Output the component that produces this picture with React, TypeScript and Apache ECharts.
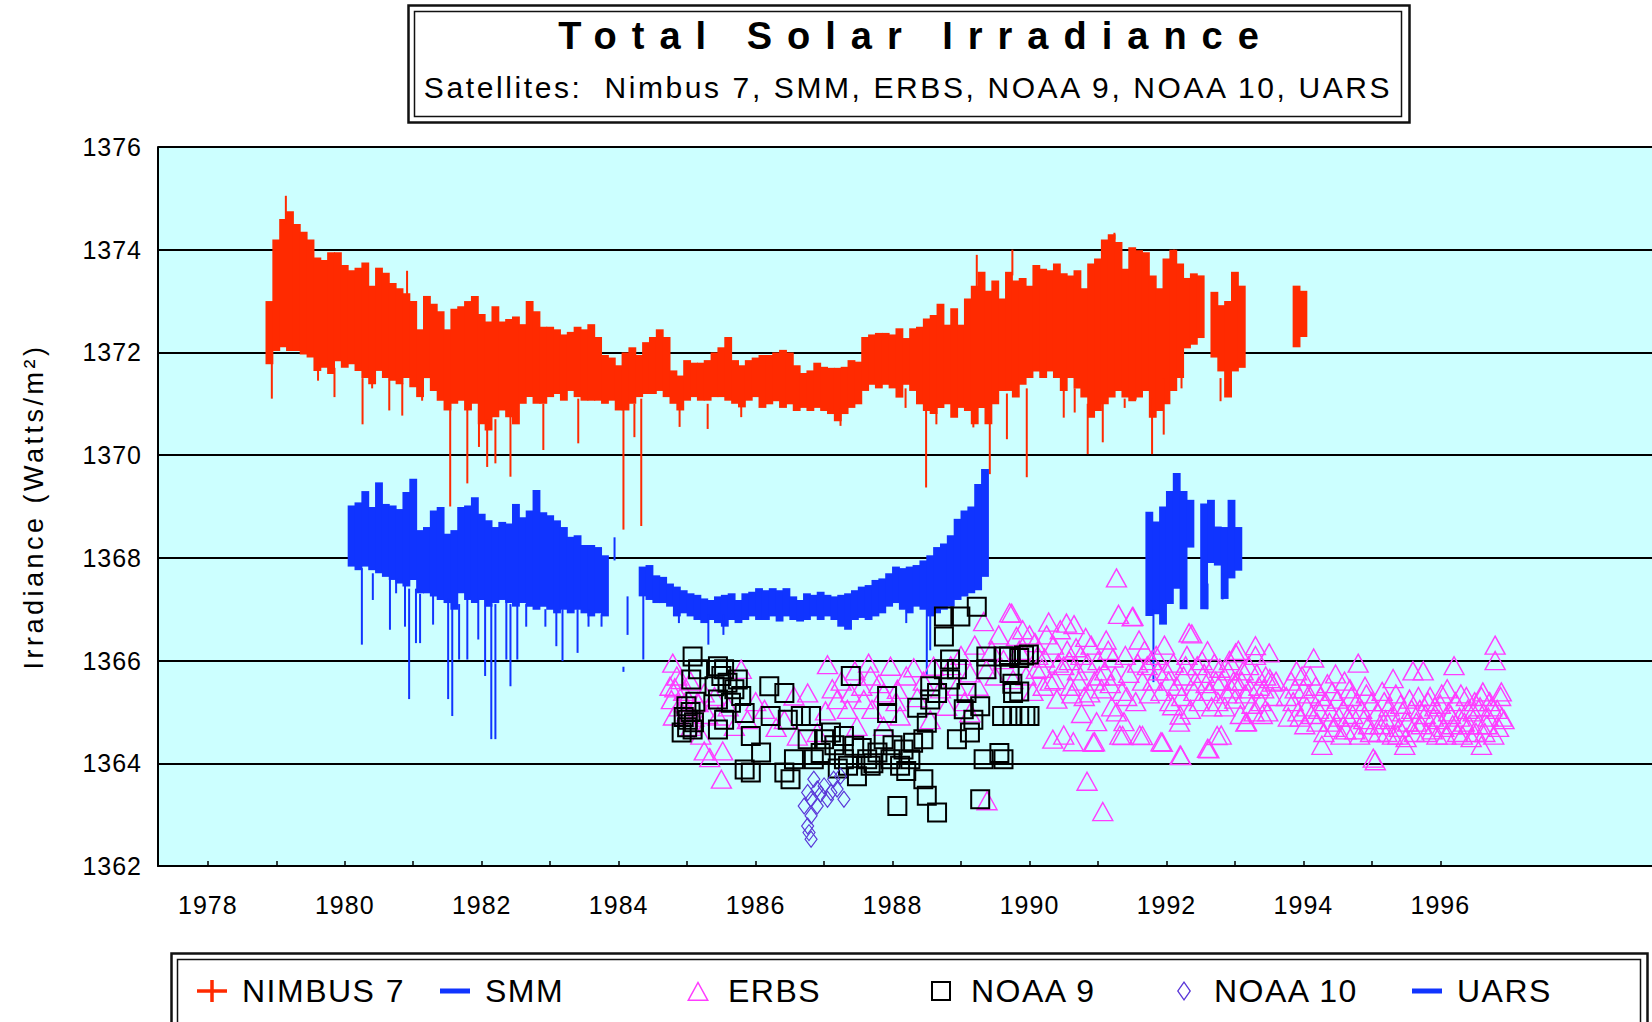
import React, { useEffect, useRef } from "react";
import * as echarts from "echarts";

// ---------- DATA ----------
const xTickYears = [1978, 1979, 1980, 1981, 1982, 1983, 1984, 1985, 1986, 1987, 1988, 1989, 1990, 1991, 1992, 1993, 1994, 1995, 1996];
const xLabelYears = [1978, 1980, 1982, 1984, 1986, 1988, 1990, 1992, 1994, 1996];
const seriesNames = ["NIMBUS 7", "SMM", "ERBS", "NOAA 9", "NOAA 10", "UARS"];

const binStep = 0.1;

// NIMBUS 7 : 0.1-year bins, upper and lower edges of the dense daily band
const nimbusStart = 1978.85;
const nimbusHigh = [
  1373.0, 1374.2, 1374.6, 1374.75, 1374.5, 1374.35, 1374.2, 1373.85, 1373.8, 1373.95,
  1373.95, 1373.7, 1373.6, 1373.65, 1373.75, 1373.3, 1373.65, 1373.55, 1373.35, 1373.25,
  1373.15, 1373.0, 1372.45, 1373.1, 1372.95, 1372.8, 1372.45, 1372.85, 1372.9, 1373.0,
  1373.1, 1372.75, 1372.6, 1372.9, 1372.6, 1372.65, 1372.7, 1372.55, 1373.0, 1372.8,
  1372.5, 1372.5, 1372.45, 1372.35, 1372.4, 1372.5, 1372.45, 1372.55, 1372.3, 1371.95,
  1371.9, 1371.75, 1372.0, 1372.1, 1371.95, 1372.2, 1372.3, 1372.45, 1372.3, 1371.65,
  1371.55, 1371.85, 1371.8, 1371.8, 1371.85, 1372.0, 1372.1, 1372.3, 1371.85, 1371.75,
  1371.85, 1371.9, 1371.95, 1371.95, 1372.0, 1372.05, 1372.0, 1371.75, 1371.6, 1371.65,
  1371.8, 1371.72, 1371.7, 1371.7, 1371.72, 1371.85, 1371.82, 1372.3, 1372.35, 1372.38,
  1372.38, 1372.35, 1372.47, 1372.28, 1372.47, 1372.5, 1372.66, 1372.73, 1372.95, 1372.54,
  1372.86, 1372.54, 1373.05, 1373.3, 1373.57, 1373.2, 1373.4, 1373.05, 1373.57, 1373.4,
  1373.45, 1373.3, 1373.7, 1373.63, 1373.6, 1373.73, 1373.54, 1373.5, 1373.6, 1373.25,
  1373.73, 1373.83, 1374.2, 1374.3, 1374.15, 1373.63, 1374.05, 1373.99, 1373.95, 1373.5,
  1373.25, 1373.83, 1374.0, 1373.73, 1373.45, 1373.54, 1373.5, null, 1373.18, 1372.92,
  1373.0, 1373.57, 1373.3,
];
const nimbusLow = [
  1371.77, 1372.03, 1372.1, 1372.03, 1372.03, 1371.96, 1371.9, 1371.64, 1371.7, 1371.58,
  1371.83, 1371.7, 1371.77, 1371.64, 1371.5, 1371.38, 1371.64, 1371.5, 1371.45, 1371.38,
  1371.5, 1371.32, 1371.13, 1371.5, 1371.25, 1371.06, 1370.87, 1371.0, 1371.06, 1370.87,
  1371.0, 1370.6, 1370.48, 1370.74, 1370.87, 1370.74, 1370.6, 1371.0, 1371.13, 1371.0,
  1371.0, 1371.13, 1371.19, 1371.06, 1371.25, 1371.13, 1371.06, 1371.06, 1371.06, 1371.0,
  1371.06, 1370.87, 1370.87, 1371.0, 1371.13, 1371.19, 1371.19, 1371.25, 1371.13, 1371.0,
  1370.87, 1371.06, 1371.13, 1371.06, 1371.06, 1371.13, 1371.13, 1371.06, 1371.0, 1370.93,
  1371.06, 1371.13, 1370.92, 1370.99, 1371.05, 1370.92, 1370.99, 1370.86, 1370.92, 1370.86,
  1370.92, 1370.86, 1370.8, 1370.66, 1370.8, 1370.92, 1370.99, 1371.25, 1371.37, 1371.3,
  1371.37, 1371.3, 1371.12, 1371.37, 1371.25, 1370.99, 1370.86, 1370.8, 1370.92, 1370.99,
  1370.73, 1370.92, 1370.86, 1370.6, 1370.92, 1370.6, 1370.99, 1371.25, 1371.25, 1371.12,
  1371.37, 1371.5, 1371.63, 1371.5, 1371.63, 1371.5, 1371.25, 1371.5, 1371.3, 1371.12,
  1370.73, 1370.86, 1370.99, 1371.12, 1371.25, 1371.12, 1371.05, 1371.12, 1371.25, 1370.73,
  1370.86, 1370.99, 1371.25, 1371.5, 1372.08, 1372.15, 1372.28, null, 1371.9, 1371.63,
  1371.12, 1371.63, 1371.7,
];
const nimbus2Start = 1993.85;
const nimbus2High = [1373.3, 1373.2];
const nimbus2Low = [1372.1, 1372.3];
// thin single-day excursions: [year, low, high]
const nimbusSpikes = [
  [1978.935, 1371.1, 1371.8], [1979.61, 1371.45, 1371.9], [1979.85, 1371.13, 1371.7],
  [1980.26, 1370.6, 1371.5], [1980.4, 1371.3, 1371.6], [1980.65, 1370.87, 1371.5],
  [1980.84, 1370.77, 1371.4], [1981.13, 1371.06, 1371.3], [1981.54, 1369.0, 1371.0],
  [1981.79, 1369.45, 1371.0], [1981.96, 1370.16, 1370.9], [1982.08, 1369.77, 1370.7],
  [1982.2, 1369.84, 1370.7], [1982.42, 1369.58, 1370.8], [1982.9, 1370.1, 1371.0],
  [1983.41, 1370.23, 1371.1], [1984.07, 1368.55, 1371.0], [1984.23, 1370.35, 1371.0],
  [1984.33, 1368.62, 1371.1], [1984.89, 1370.55, 1371.0], [1985.3, 1370.51, 1371.0],
  [1985.79, 1370.74, 1371.0], [1987.24, 1370.57, 1370.9], [1988.19, 1370.92, 1371.3],
  [1988.49, 1369.37, 1371.0], [1988.64, 1370.6, 1371.0], [1989.18, 1370.54, 1370.9],
  [1989.42, 1369.63, 1370.9], [1989.67, 1370.31, 1371.2], [1989.96, 1369.57, 1371.3],
  [1990.5, 1370.73, 1371.5], [1990.66, 1370.83, 1371.3], [1990.85, 1370.02, 1371.0],
  [1991.07, 1370.25, 1371.0], [1991.39, 1370.92, 1371.1], [1991.55, 1371.08, 1371.2],
  [1991.79, 1370.02, 1371.1], [1991.96, 1370.4, 1371.5], [1992.22, 1371.3, 1372.0],
  [1992.79, 1371.05, 1371.5],
  [1979.14, 1374.5, 1375.05], [1980.91, 1373.1, 1373.59], [1989.23, 1373.2, 1373.9],
  [1989.75, 1373.5, 1374.0], [1991.24, 1374.2, 1374.33], [1992.11, 1373.8, 1374.0],
];

// SMM
const smm1Start = 1980.05;
const smm1High = [
  1369.02, 1369.08, 1369.3, 1368.99, 1369.47, 1369.05, 1369.02, 1368.95, 1369.28, 1369.54,
  1368.54, 1368.6, 1368.92, 1368.99, 1368.47, 1368.54, 1368.99, 1369.02, 1369.18, 1368.86,
  1368.73, 1368.6, 1368.7, 1368.67, 1369.05, 1368.79, 1368.92, 1369.32, 1368.89, 1368.83,
  1368.73, 1368.6, 1368.41, 1368.44, 1368.25, 1368.25, 1368.21, 1368.05,
];
const smm1Low = [
  1367.83, 1367.76, 1367.83, 1367.76, 1367.7, 1367.63, 1367.57, 1367.5, 1367.44, 1367.57,
  1367.31, 1367.31, 1367.25, 1367.18, 1367.12, 1366.99, 1367.31, 1367.18, 1367.12, 1367.18,
  1367.05, 1367.12, 1367.18, 1367.12, 1367.05, 1367.12, 1367.05, 1366.99, 1367.05, 1366.99,
  1366.92, 1366.99, 1366.92, 1366.99, 1366.92, 1366.86, 1366.92, 1366.86,
];
const smm2Start = 1984.3;
const smm2High = [
  1367.83, 1367.86, 1367.66, 1367.63, 1367.5, 1367.44, 1367.37, 1367.31, 1367.28, 1367.21,
  1367.18, 1367.25, 1367.28, 1367.31, 1367.18, 1367.31, 1367.34, 1367.41, 1367.37, 1367.41,
  1367.37, 1367.41, 1367.25, 1367.18, 1367.31, 1367.28, 1367.34, 1367.28, 1367.25, 1367.28,
  1367.31, 1367.37, 1367.44, 1367.47, 1367.57, 1367.6, 1367.7, 1367.83, 1367.8, 1367.83,
  1367.86, 1367.95, 1368.05, 1368.21, 1368.28, 1368.44, 1368.76, 1368.92, 1369.0, 1369.44,
  1369.73,
];
const smm2Low = [
  1367.25, 1367.18, 1367.12, 1367.12, 1367.05, 1366.86, 1366.92, 1366.86, 1366.79, 1366.73,
  1366.79, 1366.73, 1366.66, 1366.79, 1366.73, 1366.79, 1366.86, 1366.79, 1366.79, 1366.86,
  1366.76, 1366.86, 1366.79, 1366.76, 1366.79, 1366.86, 1366.79, 1366.86, 1366.79, 1366.66,
  1366.6, 1366.79, 1366.83, 1366.79, 1366.86, 1366.92, 1367.05, 1367.12, 1366.99, 1366.92,
  1367.05, 1366.99, 1366.86, 1366.92, 1366.99, 1367.05, 1367.18, 1367.25, 1367.31, 1367.37,
  1367.63,
];
const smmSpikes = [
  [1980.25, 1366.31, 1367.8], [1980.41, 1367.18, 1367.7], [1980.66, 1366.6, 1367.6],
  [1980.75, 1367.31, 1367.6], [1980.88, 1366.66, 1367.5], [1980.94, 1365.25, 1367.4],
  [1981.04, 1366.34, 1367.4], [1981.1, 1366.34, 1367.3], [1981.29, 1366.7, 1367.3],
  [1981.51, 1365.25, 1367.2], [1981.57, 1364.92, 1367.1], [1981.67, 1366.02, 1367.1],
  [1981.79, 1366.02, 1367.2], [1981.95, 1366.41, 1367.2], [1982.05, 1365.7, 1367.2],
  [1982.14, 1364.47, 1367.1], [1982.2, 1364.47, 1367.1], [1982.36, 1366.02, 1367.2],
  [1982.42, 1365.5, 1367.1], [1982.52, 1366.02, 1367.1], [1982.65, 1366.66, 1367.1],
  [1982.93, 1366.66, 1367.0], [1983.09, 1366.28, 1367.0], [1983.18, 1365.99, 1367.0],
  [1983.4, 1366.15, 1367.0], [1983.56, 1366.66, 1367.0], [1983.75, 1366.66, 1366.9],
  [1983.94, 1367.95, 1368.4], [1984.07, 1365.78, 1365.88], [1984.13, 1366.5, 1367.25],
  [1984.36, 1366.02, 1367.3], [1984.88, 1366.73, 1367.0], [1985.31, 1366.31, 1366.9],
  [1985.53, 1366.5, 1366.9], [1988.2, 1366.73, 1367.0], [1988.5, 1365.7, 1367.0],
  [1988.55, 1366.2, 1367.0],
];

// UARS
const uarsStart = 1991.7;
const uarsHigh = [1368.9, 1368.71, 1369.0, 1369.3, 1369.65, 1369.3, 1369.13, null, 1369.06, 1369.13, 1368.61, 1368.6, 1369.13, 1368.6];
const uarsLow = [1366.87, 1366.9, 1366.7, 1367.1, 1367.4, 1367.0, 1368.2, null, 1367.0, 1367.9, 1367.85, 1367.2, 1367.6, 1367.75];
const uarsSpikes = [[1991.81, 1365.58, 1367.0], [1992.6, 1367.0, 1367.5], [1992.82, 1367.19, 1367.7]];

// ERBS (year, W/m2)
const erbsPoints = [
  [1984.75, 1365.5], [1984.77, 1365.24], [1984.79, 1365.95], [1984.8, 1364.92], [1984.82, 1365.47], [1984.85, 1365.7],
  [1984.88, 1365.1], [1984.91, 1365.63], [1984.95, 1365.4], [1984.96, 1365.18], [1985.0, 1365.0], [1985.05, 1365.6],
  [1985.06, 1364.72], [1985.1, 1364.9], [1985.15, 1365.2], [1985.16, 1365.18], [1985.2, 1364.55], [1985.25, 1364.24],
  [1985.25, 1365.37], [1985.3, 1364.95], [1985.33, 1364.11], [1985.4, 1365.3], [1985.45, 1364.92], [1985.5, 1363.69],
  [1985.52, 1364.24], [1985.6, 1365.1], [1985.69, 1364.72], [1985.79, 1365.83], [1985.88, 1364.85], [1986.0, 1365.2],
  [1986.13, 1365.05], [1986.3, 1364.7], [1986.42, 1364.85], [1986.56, 1365.31], [1986.61, 1364.53], [1986.76, 1365.37],
  [1986.9, 1364.6], [1987.02, 1365.02], [1987.05, 1365.92], [1987.12, 1365.45], [1987.19, 1365.24], [1987.25, 1365.6],
  [1987.34, 1365.05], [1987.39, 1365.37], [1987.45, 1365.8], [1987.48, 1364.72], [1987.55, 1365.5], [1987.58, 1365.24],
  [1987.65, 1365.95], [1987.68, 1365.7], [1987.7, 1365.05], [1987.8, 1365.55], [1987.87, 1365.37], [1987.87, 1364.72],
  [1987.97, 1365.89], [1988.05, 1365.2], [1988.07, 1365.44], [1988.11, 1364.92], [1988.2, 1365.7], [1988.31, 1365.86],
  [1988.36, 1365.28], [1988.45, 1365.6], [1988.55, 1364.85], [1988.6, 1365.89], [1988.7, 1365.45], [1988.79, 1365.11],
  [1988.85, 1365.9], [1988.94, 1365.5], [1989.0, 1366.1], [1989.05, 1365.2], [1989.13, 1365.76], [1989.13, 1364.98],
  [1989.2, 1366.3], [1989.25, 1365.5], [1989.33, 1366.76], [1989.37, 1365.83], [1989.38, 1363.27], [1989.45, 1366.2],
  [1989.5, 1365.7], [1989.55, 1366.5], [1989.62, 1366.02], [1989.71, 1366.93], [1989.74, 1366.92], [1989.76, 1365.63],
  [1989.81, 1366.47], [1989.85, 1366.2], [1989.9, 1366.6], [1989.95, 1365.7], [1990.0, 1366.5], [1990.05, 1365.4],
  [1990.08, 1366.35], [1990.1, 1365.83], [1990.12, 1366.1], [1990.18, 1365.85], [1990.2, 1365.5], [1990.22, 1366.05],
  [1990.25, 1366.5], [1990.28, 1366.75], [1990.3, 1365.6], [1990.34, 1364.47], [1990.35, 1366.3], [1990.37, 1365.63],
  [1990.4, 1365.25], [1990.42, 1365.95], [1990.45, 1366.6], [1990.5, 1365.9], [1990.5, 1364.55], [1990.54, 1366.73],
  [1990.55, 1366.2], [1990.58, 1366.0], [1990.6, 1365.5], [1990.62, 1365.35], [1990.64, 1364.42], [1990.65, 1366.7],
  [1990.68, 1366.25], [1990.7, 1365.8], [1990.72, 1365.6], [1990.75, 1366.1], [1990.76, 1364.97], [1990.8, 1365.3],
  [1990.82, 1366.45], [1990.84, 1363.65], [1990.85, 1365.95], [1990.88, 1365.37], [1990.9, 1366.3], [1990.93, 1364.41],
  [1990.95, 1365.6], [1990.95, 1364.42], [1990.98, 1364.81], [1991.0, 1366.0], [1991.02, 1365.7], [1991.05, 1365.45],
  [1991.07, 1363.06], [1991.1, 1365.8], [1991.12, 1366.4], [1991.15, 1366.2], [1991.18, 1365.55], [1991.2, 1365.1],
  [1991.22, 1366.05], [1991.25, 1365.7], [1991.27, 1367.61], [1991.27, 1365.0], [1991.3, 1366.9], [1991.32, 1364.55],
  [1991.35, 1365.4], [1991.36, 1364.54], [1991.38, 1364.81], [1991.4, 1366.1], [1991.42, 1365.3], [1991.45, 1365.75],
  [1991.5, 1366.85], [1991.51, 1366.86], [1991.55, 1365.2], [1991.58, 1365.95], [1991.6, 1366.4], [1991.61, 1364.55],
  [1991.65, 1365.6], [1991.65, 1364.54], [1991.68, 1366.2], [1991.72, 1365.9], [1991.75, 1365.35], [1991.78, 1366.0],
  [1991.8, 1365.6], [1991.85, 1366.1], [1991.88, 1365.8], [1991.92, 1365.4], [1991.92, 1364.42], [1991.94, 1364.41],
  [1991.97, 1366.3], [1992.0, 1365.8], [1992.03, 1365.6], [1992.05, 1365.2], [1992.09, 1365.12], [1992.1, 1365.95],
  [1992.15, 1365.5], [1992.19, 1364.8], [1992.2, 1364.16], [1992.2, 1364.94], [1992.21, 1364.15], [1992.22, 1365.3],
  [1992.25, 1365.7], [1992.28, 1365.9], [1992.3, 1366.1], [1992.33, 1366.54], [1992.35, 1365.05], [1992.37, 1366.52],
  [1992.4, 1365.4], [1992.42, 1365.6], [1992.45, 1365.9], [1992.48, 1365.2], [1992.52, 1366.0], [1992.55, 1365.75],
  [1992.58, 1365.55], [1992.6, 1366.19], [1992.6, 1364.29], [1992.62, 1365.4], [1992.62, 1364.28], [1992.66, 1365.1],
  [1992.7, 1365.95], [1992.72, 1365.6], [1992.74, 1364.54], [1992.75, 1365.2], [1992.78, 1365.85], [1992.8, 1365.6],
  [1992.8, 1364.55], [1992.85, 1365.1], [1992.88, 1365.35], [1992.9, 1365.8], [1992.92, 1366.0], [1992.95, 1365.45],
  [1992.98, 1365.6], [1993.0, 1365.25], [1993.01, 1366.15], [1993.02, 1365.6], [1993.05, 1366.2], [1993.08, 1364.95],
  [1993.1, 1365.6], [1993.12, 1365.8], [1993.15, 1365.35], [1993.16, 1364.8], [1993.17, 1364.81], [1993.2, 1365.9],
  [1993.22, 1365.45], [1993.25, 1365.15], [1993.28, 1365.0], [1993.3, 1366.1], [1993.3, 1366.29], [1993.32, 1365.75],
  [1993.35, 1365.5], [1993.38, 1365.2], [1993.4, 1364.95], [1993.42, 1365.45], [1993.45, 1365.7], [1993.48, 1365.0],
  [1993.5, 1366.15], [1993.51, 1365.65], [1993.54, 1365.58], [1993.55, 1365.3], [1993.6, 1365.6], [1993.75, 1365.3],
  [1993.78, 1364.9], [1993.82, 1365.6], [1993.85, 1365.2], [1993.88, 1365.45], [1993.9, 1365.8], [1993.92, 1365.0],
  [1993.95, 1364.9], [1993.98, 1365.7], [1994.0, 1365.45], [1994.02, 1364.75], [1994.05, 1365.1], [1994.08, 1365.35],
  [1994.1, 1365.7], [1994.12, 1364.95], [1994.15, 1366.05], [1994.18, 1365.5], [1994.2, 1364.8], [1994.22, 1365.05],
  [1994.25, 1365.3], [1994.27, 1364.35], [1994.3, 1364.6], [1994.32, 1365.2], [1994.35, 1365.55], [1994.38, 1364.8],
  [1994.4, 1365.0], [1994.42, 1365.4], [1994.45, 1364.7], [1994.47, 1365.74], [1994.5, 1365.25], [1994.52, 1364.9],
  [1994.55, 1364.55], [1994.58, 1365.05], [1994.6, 1365.6], [1994.62, 1364.65], [1994.65, 1364.9], [1994.68, 1365.45],
  [1994.7, 1365.3], [1994.72, 1364.95], [1994.75, 1364.65], [1994.78, 1365.2], [1994.8, 1365.95], [1994.82, 1364.55],
  [1994.85, 1365.05], [1994.88, 1364.85], [1994.9, 1365.5], [1994.92, 1365.35], [1994.95, 1364.75], [1994.98, 1364.6],
  [1995.0, 1365.2], [1995.02, 1364.1], [1995.05, 1364.05], [1995.08, 1365.0], [1995.1, 1364.6], [1995.12, 1364.75],
  [1995.15, 1365.4], [1995.18, 1365.2], [1995.2, 1364.85], [1995.22, 1364.6], [1995.25, 1365.1], [1995.28, 1364.9],
  [1995.3, 1364.55], [1995.31, 1365.65], [1995.35, 1365.35], [1995.38, 1364.55], [1995.4, 1364.7], [1995.42, 1365.15],
  [1995.45, 1365.0], [1995.48, 1364.35], [1995.5, 1364.5], [1995.52, 1364.8], [1995.55, 1365.25], [1995.58, 1365.05],
  [1995.6, 1365.8], [1995.62, 1364.6], [1995.65, 1364.8], [1995.68, 1365.3], [1995.7, 1365.05], [1995.72, 1364.75],
  [1995.75, 1365.8], [1995.78, 1364.95], [1995.8, 1364.6], [1995.82, 1365.2], [1995.85, 1365.3], [1995.88, 1364.65],
  [1995.9, 1364.9], [1995.92, 1365.1], [1995.95, 1364.55], [1995.98, 1364.85], [1996.0, 1365.15], [1996.02, 1365.35],
  [1996.05, 1364.7], [1996.08, 1364.55], [1996.1, 1365.45], [1996.12, 1365.0], [1996.15, 1364.95], [1996.18, 1364.75],
  [1996.2, 1365.9], [1996.22, 1365.2], [1996.25, 1364.6], [1996.28, 1364.9], [1996.3, 1365.35], [1996.32, 1364.55],
  [1996.35, 1364.8], [1996.38, 1365.3], [1996.4, 1365.05], [1996.42, 1364.75], [1996.45, 1364.5], [1996.48, 1365.0],
  [1996.5, 1365.2], [1996.52, 1364.6], [1996.55, 1364.75], [1996.58, 1365.1], [1996.6, 1365.3], [1996.6, 1364.35],
  [1996.62, 1365.39], [1996.65, 1364.6], [1996.68, 1364.75], [1996.7, 1364.9], [1996.72, 1365.2], [1996.75, 1365.1],
  [1996.78, 1364.55], [1996.8, 1366.3], [1996.8, 1366.0], [1996.83, 1365.05], [1996.85, 1364.7], [1996.88, 1365.3],
  [1996.89, 1365.39], [1996.9, 1364.9], [1996.93, 1364.85],
];

// NOAA 9
const noaa9Points = [
  [1984.92, 1364.6], [1984.95, 1364.9], [1984.99, 1365.11], [1985.0, 1364.7], [1985.01, 1364.85], [1985.05, 1365.0],
  [1985.06, 1365.63], [1985.08, 1366.08], [1985.08, 1364.66], [1985.1, 1364.8], [1985.12, 1365.2], [1985.16, 1365.83],
  [1985.4, 1365.5], [1985.45, 1365.89], [1985.45, 1365.24], [1985.45, 1364.66], [1985.5, 1365.7], [1985.54, 1365.83],
  [1985.54, 1364.85], [1985.59, 1365.57], [1985.64, 1365.18], [1985.69, 1365.44], [1985.74, 1365.63], [1985.79, 1365.31],
  [1985.84, 1364.98], [1985.84, 1363.88], [1985.93, 1364.53], [1985.93, 1363.82], [1986.08, 1364.21], [1986.2, 1365.5],
  [1986.22, 1364.92], [1986.42, 1365.37], [1986.42, 1363.82], [1986.47, 1364.85], [1986.51, 1363.69], [1986.56, 1364.08],
  [1986.66, 1364.92], [1986.76, 1364.47], [1986.81, 1364.92], [1986.85, 1364.08], [1986.95, 1364.2], [1987.0, 1364.47],
  [1987.1, 1364.6], [1987.15, 1364.35], [1987.2, 1363.9], [1987.29, 1364.53], [1987.29, 1364.08], [1987.35, 1363.95],
  [1987.39, 1365.7], [1987.44, 1364.34], [1987.48, 1363.75], [1987.55, 1364.3], [1987.63, 1364.08], [1987.68, 1363.95],
  [1987.72, 1364.0], [1987.78, 1364.21], [1987.87, 1364.47], [1987.92, 1365.31], [1987.92, 1364.98], [1987.97, 1364.08],
  [1988.0, 1364.35], [1988.07, 1363.17], [1988.11, 1363.95], [1988.16, 1364.27], [1988.2, 1363.85], [1988.26, 1364.08],
  [1988.3, 1364.4], [1988.36, 1365.08], [1988.45, 1364.47], [1988.45, 1363.69], [1988.5, 1364.79], [1988.5, 1363.37],
  [1988.55, 1365.24], [1988.55, 1365.5], [1988.65, 1365.37], [1988.65, 1363.04], [1988.75, 1366.86], [1988.75, 1366.47],
  [1988.75, 1365.83], [1988.84, 1366.02], [1988.84, 1365.63], [1988.94, 1365.83], [1988.94, 1364.47], [1988.99, 1366.86],
  [1989.04, 1365.05], [1989.08, 1365.37], [1989.13, 1364.6], [1989.18, 1364.85], [1989.23, 1367.05], [1989.28, 1365.11],
  [1989.28, 1363.3], [1989.33, 1364.08], [1989.37, 1366.08], [1989.37, 1365.83], [1989.56, 1364.2], [1989.6, 1364.92],
  [1989.62, 1366.08], [1989.62, 1364.08], [1989.7, 1366.08], [1989.71, 1365.76], [1989.75, 1365.55], [1989.75, 1364.92],
  [1989.76, 1365.37], [1989.85, 1366.05], [1989.85, 1365.4], [1989.85, 1364.92], [1989.92, 1366.1], [1989.94, 1364.92],
  [1989.99, 1366.12], [1990.0, 1364.92],
];

// NOAA 10
const noaa10Points = [
  [1986.81, 1362.52], [1986.78, 1362.65], [1986.76, 1362.78], [1986.81, 1362.98], [1986.71, 1363.17], [1986.81, 1363.3],
  [1986.9, 1363.5], [1986.76, 1363.43], [1987.0, 1363.56], [1987.1, 1363.43], [1987.19, 1363.5], [1987.29, 1363.3],
  [1986.9, 1363.17], [1987.05, 1363.3], [1987.14, 1363.69], [1986.85, 1363.69], [1987.24, 1363.75], [1986.95, 1363.4],
];

// ---------- STYLE ----------
const FONT = "Liberation Sans";
const RED = "#ff2a00";
const BLUE = "#1034ff";
const MAGENTA = "#ff3cff";
const VIOLET = "#5a36d8";
const BG = "#ccffff";

const CORNERS = "M0,0h0.01v0.01h-0.01z M49.99,21.99h0.01v0.01h-0.01z ";
const ICON_PLUS = "path://" + CORNERS + "M10,9.25h30v3.5h-30z M23.25,0h3.5v22h-3.5z";
const ICON_DASH = "path://" + CORNERS + "M10,8.5h30v5h-30z";
const ICON_TRI = "path://" + CORNERS + "M25,1L36,21L14,21Z M25,4.1L16.53,19.5L33.47,19.5Z";
const ICON_SQ = "path://" + CORNERS + "M15,1H35V21H15Z M17,3V19H33V3Z";
const ICON_DIA = "path://" + CORNERS + "M25,1L32,11L25,21L18,11Z M25,3.27L19.59,11L25,18.73L30.41,11Z";

const SPACING: Record<string, number> = {
  "Total Solar Irradiance": 15,
  "Satellites:  Nimbus 7, SMM, ERBS, NOAA 9, NOAA 10, UARS": 2.6,
  "Irradiance (Watts/m²)": 3.5,
  "NIMBUS 7": 1.5, SMM: 1.5, ERBS: 1.5, "NOAA 9": 1.5, "NOAA 10": 1.5, UARS: 1.5,
};

function bands(start: number, high: (number | null)[], low: (number | null)[]) {
  const out: number[][] = [];
  high.forEach((h, i) => {
    const l = low[i];
    if (h == null || l == null) return;
    out.push([start + (i + 0.5) * binStep, l, h, 0]);
  });
  return out;
}
function spikes(list: number[][]) {
  return list.map((s) => [s[0], s[1], s[2], 1]);
}

function renderBand(params: any, api: any) {
  const x = api.value(0);
  const lo = api.value(1);
  const hi = api.value(2);
  const kind = api.value(3);
  const top = api.coord([x, hi]);
  const bot = api.coord([x, lo]);
  const w = kind === 0 ? api.size([binStep, 0])[0] + 1 : 2;
  return {
    type: "rect",
    shape: { x: top[0] - w / 2, y: top[1], width: w, height: Math.max(1.5, bot[1] - top[1]) },
    style: { fill: api.visual("color") },
  };
}

export default function App() {
  const ref = useRef<HTMLDivElement>(null);
  useEffect(() => {
    if (!ref.current) return;
    const chart = echarts.init(ref.current, null, { renderer: "svg" });
    const bandSeries = (name: string, color: string, data: number[][]) => ({
      type: "custom",
      name,
      silent: true,
      renderItem: renderBand,
      itemStyle: { color },
      encode: { x: 0, y: [1, 2] },
      data,
    });
    const scatter = (name: string, symbol: string, size: any, color: string, bw: number, data: number[][]) => ({
      type: "scatter",
      name,
      silent: true,
      symbol,
      symbolSize: size,
      itemStyle: { color: "rgba(0,0,0,0)", borderColor: color, borderWidth: bw, opacity: 1 },
      data,
    });
    const option: any = {
      animation: false,
      textStyle: { fontFamily: FONT },
      title: [
        {
          text: "Total Solar Irradiance",
          left: 916,
          top: 17,
          textAlign: "center",
          padding: 0,
          textStyle: { fontFamily: FONT, fontSize: 38, fontWeight: "bold", color: "#000" },
        },
        {
          text: "Satellites:  Nimbus 7, SMM, ERBS, NOAA 9, NOAA 10, UARS",
          left: 908,
          top: 72,
          textAlign: "center",
          padding: 0,
          textStyle: { fontFamily: FONT, fontSize: 30, fontWeight: "normal", color: "#000" },
        },
      ],
      graphic: [
        { type: "rect", z: 0, shape: { x: 408.5, y: 5.5, width: 1001, height: 117 }, style: { fill: "none", stroke: "#111", lineWidth: 2.5 } },
        { type: "rect", z: 0, shape: { x: 414.5, y: 11.5, width: 987, height: 105 }, style: { fill: "none", stroke: "#111", lineWidth: 1.5 } },
        { type: "rect", z: 0, shape: { x: 171.5, y: 953.5, width: 1476, height: 100 }, style: { fill: "none", stroke: "#111", lineWidth: 2.5 } },
        { type: "rect", z: 0, shape: { x: 177.5, y: 959.5, width: 1463, height: 100 }, style: { fill: "none", stroke: "#111", lineWidth: 1.5 } },
      ],
      legend: {
        left: 187,
        top: 975,
        padding: 0,
        itemWidth: 50,
        itemHeight: 22,
        itemGap: 28,
        selectedMode: false,
        textStyle: { fontFamily: FONT, fontSize: 32, color: "#000", width: 160, lineHeight: 32, overflow: "none" },
        data: [
          { name: "NIMBUS 7", icon: ICON_PLUS, itemStyle: { color: RED, borderWidth: 0 } },
          { name: "SMM", icon: ICON_DASH, itemStyle: { color: BLUE, borderWidth: 0 } },
          { name: "ERBS", icon: ICON_TRI, itemStyle: { color: MAGENTA, borderWidth: 0 } },
          { name: "NOAA 9", icon: ICON_SQ, itemStyle: { color: "#000", borderWidth: 0 } },
          { name: "NOAA 10", icon: ICON_DIA, itemStyle: { color: VIOLET, borderWidth: 0 } },
          { name: "UARS", icon: ICON_DASH, itemStyle: { color: BLUE, borderWidth: 0 } },
        ],
      },
      grid: {
        left: 158,
        top: 147,
        width: 1500,
        height: 719,
        show: true,
        backgroundColor: BG,
        borderWidth: 0,
        containLabel: false,
      },
      xAxis: {
        type: "value",
        min: 1977.2727,
        max: 1999.0909,
        axisLine: { show: true, onZero: false, lineStyle: { color: "#000", width: 2 } },
        axisTick: { show: true, inside: true, length: 5, customValues: xTickYears, lineStyle: { color: "#000", width: 1.5 } },
        axisLabel: {
          customValues: xLabelYears,
          margin: 26,
          fontFamily: FONT,
          fontSize: 25,
          color: "#000",
          formatter: (v: number) => String(Math.round(v)),
        },
        splitLine: { show: false },
      },
      yAxis: {
        type: "value",
        min: 1362,
        max: 1376,
        interval: 2,
        name: "Irradiance (Watts/m²)",
        nameLocation: "middle",
        nameRotate: 90,
        nameGap: 111,
        nameTextStyle: { fontFamily: FONT, fontSize: 27, color: "#000" },
        axisLine: { show: true, lineStyle: { color: "#000", width: 2 } },
        axisTick: { show: false },
        axisLabel: {
          margin: 16,
          fontFamily: FONT,
          fontSize: 25,
          color: "#000",
          formatter: (v: number) => String(v),
        },
        splitLine: { show: true, lineStyle: { color: "#000", width: 2 } },
      },
      series: [
        bandSeries(seriesNames[0], RED, [
          ...bands(nimbusStart, nimbusHigh, nimbusLow),
          ...bands(nimbus2Start, nimbus2High, nimbus2Low),
          ...spikes(nimbusSpikes),
        ]),
        bandSeries(seriesNames[1], BLUE, [
          ...bands(smm1Start, smm1High, smm1Low),
          ...bands(smm2Start, smm2High, smm2Low),
          ...spikes(smmSpikes),
        ]),
        scatter(seriesNames[2], "triangle", [20, 18], MAGENTA, 1.4, erbsPoints),
        scatter(seriesNames[3], "rect", 18, "#000", 2, noaa9Points),
        scatter(seriesNames[4], "diamond", [12, 16], VIOLET, 1.2, noaa10Points),
        bandSeries(seriesNames[5], BLUE, [...bands(uarsStart, uarsHigh, uarsLow), ...spikes(uarsSpikes)]),
      ],
    };
    chart.setOption(option);
    const applySpacing = () => {
      const svg = ref.current?.querySelector("svg");
      if (!svg) return;
      svg.querySelectorAll("text").forEach((t) => {
        const s = (t.textContent || "").trim();
        if (SPACING[s] != null) t.setAttribute("letter-spacing", String(SPACING[s]));
        else if (/^\d{4}$/.test(s)) t.setAttribute("letter-spacing", "1");
      });
    };
    applySpacing();
    chart.on("finished", applySpacing);
    return () => chart.dispose();
  }, []);
  return <div ref={ref} style={{ position: "fixed", left: 0, top: 0, width: 1652, height: 1022, background: "#fff" }} />;
}
